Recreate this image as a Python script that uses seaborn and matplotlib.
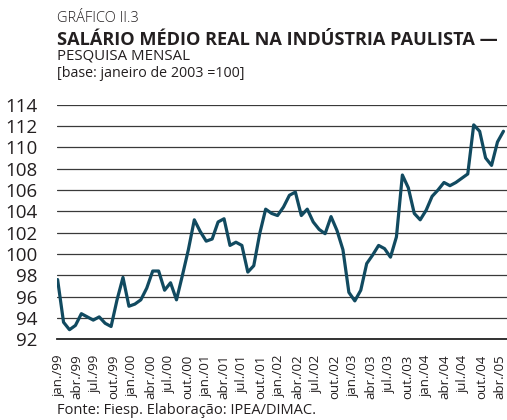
import matplotlib
matplotlib.use("Agg")
import pandas as pd
import seaborn as sns
import matplotlib.pyplot as plt

# índice mensal, jan/99 = 0 ... abr/05 = 75
months = list(range(76))
salario = [
    97.6, 93.6, 92.9, 93.3, 94.4, 94.1, 93.8, 94.1, 93.5, 93.2, 95.7, 97.8,
    95.1, 95.3, 95.7, 96.8, 98.4, 98.4, 96.6, 97.3, 95.7, 98.0, 100.4, 103.2,
    102.1, 101.2, 101.4, 103.0, 103.3, 100.8, 101.1, 100.8, 98.3, 98.9, 101.9, 104.2,
    103.8, 103.6, 104.4, 105.5, 105.8, 103.6, 104.2, 103.0, 102.3, 101.9, 103.5, 102.2,
    100.4, 96.4, 95.6, 96.6, 99.1, 99.9, 100.8, 100.5, 99.7, 101.6, 107.4, 106.2,
    103.8, 103.2, 104.1, 105.4, 106.0, 106.7, 106.4, 106.7, 107.1, 107.5, 112.1, 111.5,
    109.0, 108.3, 110.5, 111.5,
]
tick_labels = [
    "jan./99", "abr./99", "jul./99", "out./99",
    "jan./00", "abr./00", "jul./00", "out./00",
    "jan./01", "abr./01", "jul./01", "out./01",
    "jan./02", "abr./02", "jul./02", "out./02",
    "jan./03", "abr./03", "jul./03", "out./03",
    "jan./04", "abr./04", "jul./04", "out./04",
    "abr./05",
]
y_ticks = list(range(92, 115, 2))

LINE_COLOR = "#114a60"
TEXT_COLOR = "#231f20"


def draw(df):
    sns.set_style("white")
    plt.rcParams["font.family"] = ["Open Sans", "DejaVu Sans"]

    W, H = 507, 420
    fig = plt.figure(figsize=(W / 100, H / 100), dpi=100)
    ax = fig.add_axes([57 / W, 1 - 339.3 / H, 450 / W, (339.3 - 104.6) / H])

    sns.lineplot(data=df, x="mes", y="indice", ax=ax, color=LINE_COLOR, linewidth=2.3)

    ax.set_xlim(-0.1, 75.6)
    ax.set_ylim(92, 114)
    ax.set_xlabel("")
    ax.set_ylabel("")

    # grade horizontal
    ax.set_yticks(y_ticks)
    ax.yaxis.grid(True, color="#3a3a3a", linewidth=0.9)
    ax.set_axisbelow(True)
    ax.tick_params(axis="y", length=0, pad=14, labelsize=13.5, labelcolor=TEXT_COLOR)

    # marcas trimestrais sem rótulo; rótulos distribuídos por igual
    ax.xaxis.remove_overlapping_locs = False
    ax.set_xticks(range(0, 76, 3))
    ax.set_xticklabels([])
    ax.tick_params(axis="x", which="major", direction="in", length=8, width=0.9, color="#333333")
    n = len(tick_labels)
    first, last = 0.2, 74.4
    ax.set_xticks([first + (last - first) * k / (n - 1) for k in range(n)], minor=True)
    ax.set_xticklabels(tick_labels, minor=True, rotation=90, fontsize=9.5, color=TEXT_COLOR)
    ax.tick_params(axis="x", which="minor", length=0, pad=11)

    for side in ["left", "right", "top"]:
        ax.spines[side].set_visible(False)
    ax.spines["bottom"].set_color("#222222")
    ax.spines["bottom"].set_linewidth(1.3)

    x0 = 57 / W
    fig.text(x0, 1 - 22 / H, "GRÁFICO II.3", fontsize=10.5, fontweight="light",
             color=TEXT_COLOR, va="baseline")
    fig.text(x0, 1 - 45 / H, "SALÁRIO MÉDIO REAL NA INDÚSTRIA PAULISTA —", fontsize=13.1,
             fontweight="bold", color=TEXT_COLOR, va="baseline")
    fig.text(x0, 1 - 59.5 / H, "PESQUISA MENSAL", fontsize=10.8,
             color=TEXT_COLOR, va="baseline")
    fig.text(x0, 1 - 77 / H, "[base: janeiro de 2003 =100]", fontsize=10.3,
             color=TEXT_COLOR, va="baseline")
    fig.text(x0, 1 - 414 / H, "Fonte: Fiesp. Elaboração: IPEA/DIMAC.", fontsize=10.5,
             color=TEXT_COLOR, va="baseline")

    fig.savefig("out.png", dpi=100)


if __name__ == "__main__":
    df = pd.DataFrame({"mes": months, "indice": salario})
    draw(df)
